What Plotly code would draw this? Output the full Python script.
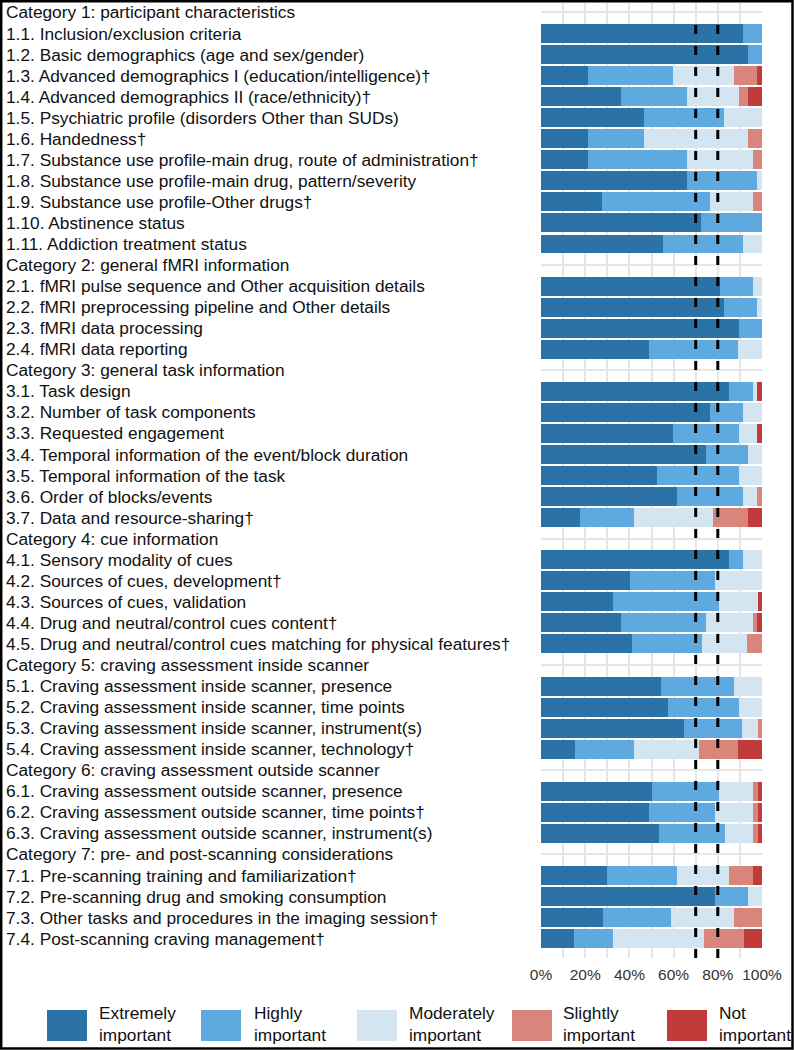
import plotly.graph_objects as go

# ---------------- data ----------------
labels = [
    "Category 1: participant characteristics",
    "1.1. Inclusion/exclusion criteria",
    "1.2. Basic demographics (age and sex/gender)",
    "1.3. Advanced demographics I (education/intelligence)†",
    "1.4. Advanced demographics II (race/ethnicity)†",
    "1.5. Psychiatric profile (disorders Other than SUDs)",
    "1.6. Handedness†",
    "1.7. Substance use profile-main drug, route of administration†",
    "1.8. Substance use profile-main drug, pattern/severity",
    "1.9. Substance use profile-Other drugs†",
    "1.10. Abstinence status",
    "1.11. Addiction treatment status",
    "Category 2: general fMRI information",
    "2.1. fMRI pulse sequence and Other acquisition details",
    "2.2. fMRI preprocessing pipeline and Other details",
    "2.3. fMRI data processing",
    "2.4. fMRI data reporting",
    "Category 3: general task information",
    "3.1. Task design",
    "3.2. Number of task components",
    "3.3. Requested engagement",
    "3.4. Temporal information of the event/block duration",
    "3.5. Temporal information of the task",
    "3.6. Order of blocks/events",
    "3.7. Data and resource-sharing†",
    "Category 4: cue information",
    "4.1. Sensory modality of cues",
    "4.2. Sources of cues, development†",
    "4.3. Sources of cues, validation",
    "4.4. Drug and neutral/control cues content†",
    "4.5. Drug and neutral/control cues matching for physical features†",
    "Category 5: craving assessment inside scanner",
    "5.1. Craving assessment inside scanner, presence",
    "5.2. Craving assessment inside scanner, time points",
    "5.3. Craving assessment inside scanner, instrument(s)",
    "5.4. Craving assessment inside scanner, technology†",
    "Category 6: craving assessment outside scanner",
    "6.1. Craving assessment outside scanner, presence",
    "6.2. Craving assessment outside scanner, time points†",
    "6.3. Craving assessment outside scanner, instrument(s)",
    "Category 7: pre- and post-scanning considerations",
    "7.1. Pre-scanning training and familiarization†",
    "7.2. Pre-scanning drug and smoking consumption",
    "7.3. Other tasks and procedures in the imaging session†",
    "7.4. Post-scanning craving management†",
]

# percentages per rating level (None = category header row)
extremely = [None, 91.5, 93.6, 21.3, 36.2, 46.8, 21.3, 21.3, 66.0, 27.7, 72.3, 55.3,
             None, 80.9, 83.0, 89.4, 48.9,
             None, 85.1, 76.6, 59.6, 74.5, 52.3, 61.7, 17.6,
             None, 85.1, 40.4, 32.7, 36.2, 41.0,
             None, 54.5, 57.5, 64.6, 15.4,
             None, 50.2, 48.9, 53.3,
             None, 30.0, 78.8, 28.2, 15.1]
highly = [None, 8.5, 6.4, 38.3, 29.8, 36.2, 25.5, 44.7, 31.9, 48.9, 27.7, 36.2,
          None, 14.9, 14.9, 10.6, 40.4,
          None, 10.6, 14.9, 29.8, 19.1, 37.2, 29.8, 24.6,
          None, 6.4, 38.3, 47.9, 38.3, 31.9,
          None, 32.7, 32.1, 26.5, 26.8,
          None, 30.4, 29.9, 29.8,
          None, 31.7, 15.0, 30.5, 17.6]
moderately = [None, 0, 0, 27.7, 23.4, 17.0, 46.8, 29.8, 2.1, 19.1, 0, 8.5,
              None, 4.3, 2.1, 0, 10.6,
              None, 2.1, 8.5, 8.5, 6.4, 10.5, 6.4, 35.7,
              None, 8.5, 21.3, 17.6, 21.3, 20.5,
              None, 12.8, 10.4, 7.1, 29.2,
              None, 15.3, 17.1, 12.8,
              None, 23.5, 6.2, 28.5, 41.2]
slightly = [None, 0, 0, 10.6, 4.3, 0, 6.4, 4.3, 0, 4.3, 0, 0,
            None, 0, 0, 0, 0,
            None, 0, 0, 0, 0, 0, 2.1, 15.9,
            None, 0, 0, 0, 2.1, 6.6,
            None, 0, 0, 1.8, 17.8,
            None, 2.3, 2.3, 2.3,
            None, 10.7, 0, 12.8, 17.8]
not_imp = [None, 0, 0, 2.1, 6.4, 0, 0, 0, 0, 0, 0, 0,
           None, 0, 0, 0, 0,
           None, 2.1, 0, 2.1, 0, 0, 0, 6.2,
           None, 0, 0, 1.8, 2.1, 0,
           None, 0, 0, 0, 10.8,
           None, 1.8, 1.8, 1.8,
           None, 4.1, 0, 0, 8.3]

level_names = ["Extremely<br>important", "Highly<br>important", "Moderately<br>important",
               "Slightly<br>important", "Not<br>important"]
thresholds = [70, 80]
x_ticks = [0, 10, 20, 30, 40, 50, 60, 70, 80, 90, 100]

# ---------------- style ----------------
colors = ["#2b72a7", "#5eaae0", "#d3e5f1", "#da857b", "#c23b3b"]
FONT = "Liberation Sans, Arial, Helvetica, sans-serif"
TXT = 17.3

W, H = 794, 1050
L, R = 541, 762
T, B = 3, 958
ROW0, ROWH = 12.45, 21.05


def px_x(p):
    return (p - L) / (R - L)


def px_y(p):
    return (B - p) / (B - T)


rows = list(range(len(labels)))
series = [extremely, highly, moderately, slightly, not_imp]

fig = go.Figure()
for name, vals, col in zip(level_names, series, colors):
    fig.add_trace(go.Bar(
        y=rows, x=vals, orientation="h", name=name.replace("<br>", " "),
        marker=dict(color=col, line=dict(width=0)), showlegend=False,
        hoverinfo="skip",
    ))

shapes = []
for t in thresholds:
    shapes.append(dict(type="line", xref="x", yref="paper", x0=t, x1=t,
                       y0=px_y(958), y1=px_y(13),
                       line=dict(color="black", width=3, dash="9px,12px"),
                       layer="above"))

annotations = []
for r, lab in zip(rows, labels):
    annotations.append(dict(text=lab, xref="paper", yref="y", x=px_x(4), y=r,
                            xanchor="left", yanchor="middle", showarrow=False,
                            font=dict(family=FONT, size=TXT, color="#111111")))

# legend (manual, large keys)
key_x = [47, 201, 357, 512, 667]
txt_x = [97, 252, 407, 561, 717]
for kx, tx, col, nm in zip(key_x, txt_x, colors, level_names):
    shapes.append(dict(type="rect", xref="paper", yref="paper",
                       x0=px_x(kx), x1=px_x(kx + 40), y0=px_y(1041), y1=px_y(1010),
                       fillcolor=col, line=dict(width=0)))
    annotations.append(dict(text=nm, xref="paper", yref="paper", x=px_x(tx), y=px_y(1024),
                            xanchor="left", yanchor="middle", align="left", showarrow=False,
                            font=dict(family=FONT, size=TXT, color="#111111")))

# outer frame
shapes.append(dict(type="rect", xref="paper", yref="paper",
                   x0=px_x(1.2), x1=px_x(792.5), y0=px_y(1048.5), y1=px_y(1.2),
                   line=dict(color="black", width=2.5), fillcolor="rgba(0,0,0,0)"))

fig.update_layout(
    width=W, height=H,
    margin=dict(l=L, r=W - R, t=T, b=H - B, pad=0),
    barmode="stack", bargap=0.1,
    plot_bgcolor="white", paper_bgcolor="white",
    font=dict(family=FONT),
    shapes=shapes, annotations=annotations,
    xaxis=dict(range=[0, 100], tickmode="array", tickvals=x_ticks,
               ticktext=[f"{v}%" if v % 20 == 0 else "" for v in x_ticks],
               showgrid=True, gridcolor="#e6e6e6", gridwidth=1.5,
               zeroline=False, showline=False, ticks="",
               ticklabelstandoff=5,
               tickfont=dict(family=FONT, size=15.5, color="#333333")),
    yaxis=dict(range=[(B - ROW0) / ROWH, (T - ROW0) / ROWH],
               tickmode="linear", tick0=0, dtick=1,
               showticklabels=False, showgrid=True, gridcolor="#e6e6e6", gridwidth=1.5,
               zeroline=False, showline=False, ticks=""),
)

fig.write_html("out.html", config={"displayModeBar": False})

# remove the browser's default page margin so the figure sits at (0, 0)
with open("out.html", "r", encoding="utf-8") as f:
    html = f.read()
html = html.replace("<head>", "<head><style>html,body{margin:0;padding:0;}</style>", 1)
with open("out.html", "w", encoding="utf-8") as f:
    f.write(html)
